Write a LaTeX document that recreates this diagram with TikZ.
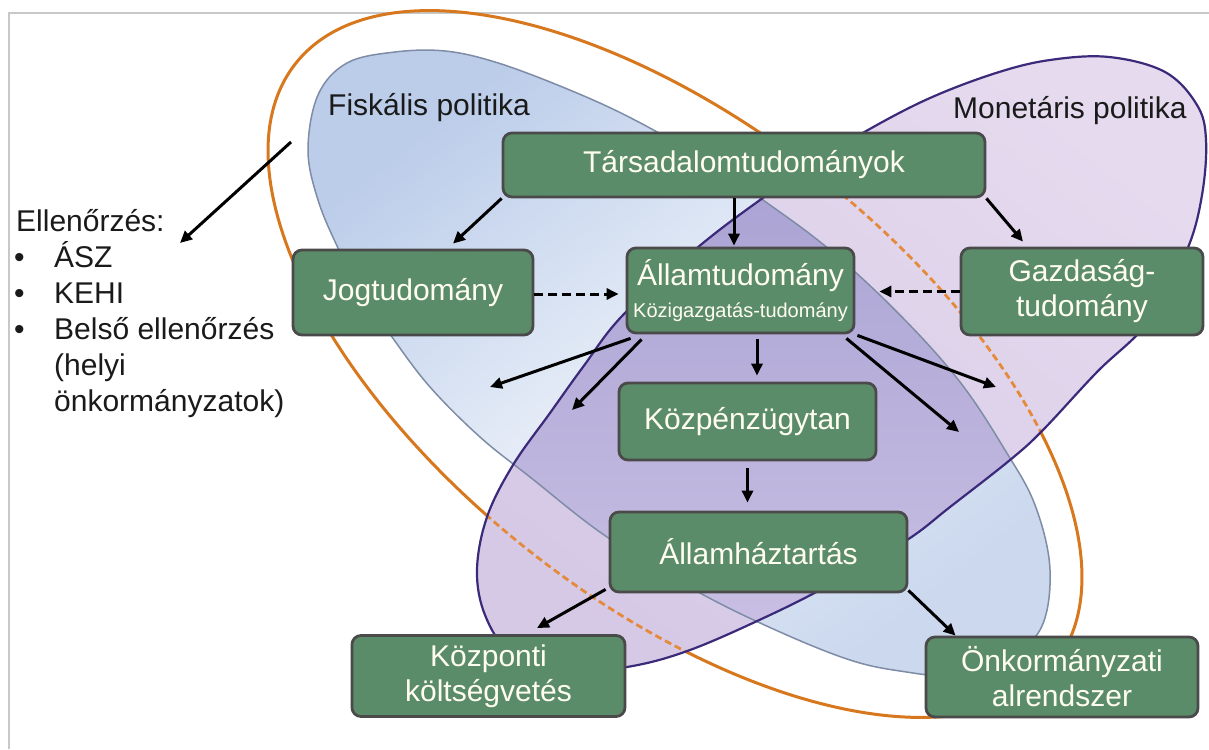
\documentclass[tikz,border=0pt]{standalone}
\usepackage{fontspec}
\setmainfont{Liberation Sans}
\usetikzlibrary{arrows.meta,calc}

\definecolor{boxgreen}{HTML}{5B8C69}
\definecolor{boxline}{HTML}{4A4A4A}
\definecolor{boxtext}{HTML}{FFFDF0}
\definecolor{fiskA}{HTML}{BCCDEA}
\definecolor{fiskB}{HTML}{E9EFF8}
\definecolor{fiskC}{HTML}{CBD8EE}
\definecolor{monA}{HTML}{E5DAEE}
\definecolor{monB}{HTML}{D6C9E6}
\definecolor{ovA}{HTML}{A19BCF}
\definecolor{ovB}{HTML}{CCC2E5}
\definecolor{fiskline}{HTML}{7E8CA6}
\definecolor{monline}{HTML}{3B2A7A}
\definecolor{orangesolid}{HTML}{D8781E}
\definecolor{orangedash}{HTML}{E58A3A}
\definecolor{framegray}{HTML}{C8C8C8}
\definecolor{labelblack}{HTML}{1A1A1A}

\tikzset{
  fiskshape/.style={insert path={plot[smooth cycle, tension=0.6] coordinates {
    (308,150) (318,95) (347,63) (395,52) (445,51) (495,62) (560,86) (627,116)
    (700,157) (763,200) (830,250) (900,315) (960,382) (1005,450) (1035,505)
    (1050,570) (1040,630) (1000,660) (950,675) (900,671) (850,660) (780,632)
    (700,593) (607,537) (530,477) (480,437) (430,387) (392,337) (360,290)
    (338,248) (318,200)}}},
  monshape/.style={insert path={plot[smooth cycle, tension=0.6] coordinates {
    (1109,57) (1165,72) (1197,105) (1206,140) (1202,195) (1187,250) (1150,320)
    (1097,372) (1043,430) (1010,460) (950,507) (907,540) (833,583) (770,615)
    (690,650) (627,667) (560,672) (510,652) (485,615) (477,570) (487,517)
    (513,465) (550,413) (583,367) (623,315) (697,248) (760,200) (815,163)
    (868,130) (930,98) (996,73) (1050,60)}}},
  ctrlring/.style={insert path={(675,364) ellipse [x radius=484pt, y radius=237pt]}},
}

\begin{document}
\begin{tikzpicture}[x=1pt, y=-1pt,
  box/.style={draw=boxline, line width=2.8pt, fill=boxgreen, rounded corners=9pt,
    text=boxtext, font=\fontsize{30}{35}\selectfont, align=center, inner sep=0pt},
  link/.style={draw=black, line width=3pt, -{Triangle[length=12pt,width=11pt]}},
  dlink/.style={link, dash pattern=on 9pt off 5pt},
  label/.style={font=\fontsize{30}{35}\selectfont, text=labelblack, inner sep=0pt},
  ringrot/.style={rotate around={-38.4:(675,364)}}]

\useasboundingbox (0,0) rectangle (1209,749);
\fill[white] (0,0) rectangle (1209,749);
\draw[framegray, line width=1.2pt] (9,749) -- (9,13) -- (1209,13);

% fiscal policy area (middle color goes after top and bottom)
\shade[fiskshape, top color=fiskA, bottom color=fiskC, middle color=fiskB, shading angle=38];

% control ring (solid part; the monetary area covers its inner part)
\draw[orangesolid, line width=3pt, ringrot, ctrlring];

% monetary policy area
\shade[monshape, top color=monA, bottom color=monB, shading angle=-38];

% overlap of the two areas
\begin{scope}
  \clip[fiskshape];
  \shade[monshape, top color=ovA, bottom color=ovB];
\end{scope}

% control ring seen through the monetary area
\begin{scope}
  \clip[monshape];
  \draw[orangedash, line width=2.8pt, dash pattern=on 7pt off 4pt, ringrot, ctrlring];
\end{scope}

% outlines
\draw[fiskline, line width=1.5pt, fiskshape];
\draw[monline, line width=2.2pt, monshape];

% area labels
\node[label, anchor=base west] (fisk) at (328,116) {Fiskális politika};
\node[label, anchor=base west] (mon) at (953,119) {Monetáris politika};

% control bodies
\node[label, anchor=base west] (ell) at (16,231) {Ellenőrzés:};
\node[label, anchor=base west] (bul1) at (14,267) {•};
\node[label, anchor=base west] (bul2) at (14,303) {•};
\node[label, anchor=base west] (bul3) at (14,339) {•};
\node[label, anchor=base west] (it1) at (54,267) {ÁSZ};
\node[label, anchor=base west] (it2) at (54,303) {KEHI};
\node[label, anchor=base west] (it3) at (54,339) {Belső ellenőrzés};
\node[label, anchor=base west] (it4) at (54,375) {(helyi};
\node[label, anchor=base west] (it5) at (54,411) {önkormányzatok)};

% boxes
\node[box, minimum width=482pt, minimum height=64pt] (tars) at (744,165) {Társadalomtudományok};
\node[box, minimum width=240pt, minimum height=85pt] (jog) at (413,292.5) {Jogtudomány};
\node[box, minimum width=227pt, minimum height=85pt] (allam) at (740.5,290.5)
  {Államtudomány\\[-3pt]{\fontsize{20}{22}\selectfont Közigazgatás-tudomány}};
\node[box, minimum width=242pt, minimum height=87pt] (gazd) at (1082,291.5) {Gazdaság-\\tudomány};
\node[box, minimum width=257pt, minimum height=77pt] (kozp) at (747.5,421.5) {Közpénzügytan};
\node[box, minimum width=297pt, minimum height=80pt] (allamh) at (758.5,552) {Államháztartás};
\node[box, minimum width=273pt, minimum height=81pt] (kozponti) at (488.5,676) {Központi\\költségvetés};
\node[box, minimum width=272pt, minimum height=80pt] (onk) at (1062,677) {Önkormányzati\\alrendszer};

% free arrow ends
\coordinate (fiskfrom) at (291,142);
\coordinate (ellto) at (180,243);
\coordinate (outA) at (490,387);
\coordinate (outB) at (572,410);
\coordinate (outC) at (996,387);
\coordinate (outD) at (959,432);

% connectors
\draw[link] (fiskfrom) -- (ellto);
\draw[link] (tars.south west) -- ([xshift=40pt,yshift=5pt]jog.north);
\draw[link] ([xshift=-10pt]tars.south) -- ([xshift=-6.5pt,yshift=1pt]allam.north);
\draw[link] (tars.south east) -- ([xshift=-59pt,yshift=5pt]gazd.north);
\draw[dlink] ([yshift=-1.5pt]jog.east) -- ([xshift=-7pt,yshift=-1.5pt]jog.east -| allam.west);
\draw[dlink] (gazd.west) -- ([xshift=24pt]gazd.west -| allam.east);
\draw[link] ([xshift=5pt,yshift=-4pt]allam.south west) -- (outA);
\draw[link] ([xshift=16pt,yshift=-5pt]allam.south west) -- (outB);
\draw[link] ([xshift=2pt,yshift=-1pt]allam.south east) -- (outC);
\draw[link] ([xshift=-9pt,yshift=-4pt]allam.south east) -- (outD);
\draw[link] ([xshift=16.5pt,yshift=-5pt]allam.south) -- ([xshift=9.5pt,yshift=6pt]kozp.north);
\draw[link] ([yshift=-7pt]kozp.south) -- ([xshift=-11pt,yshift=8pt]allamh.north);
\draw[link] ([xshift=-3pt,yshift=4pt]allamh.south west) -- ([xshift=48.5pt,yshift=6pt]kozponti.north);
\draw[link] ([yshift=3pt]allamh.south east) -- ([xshift=31pt]onk.north west);

\end{tikzpicture}
\end{document}
